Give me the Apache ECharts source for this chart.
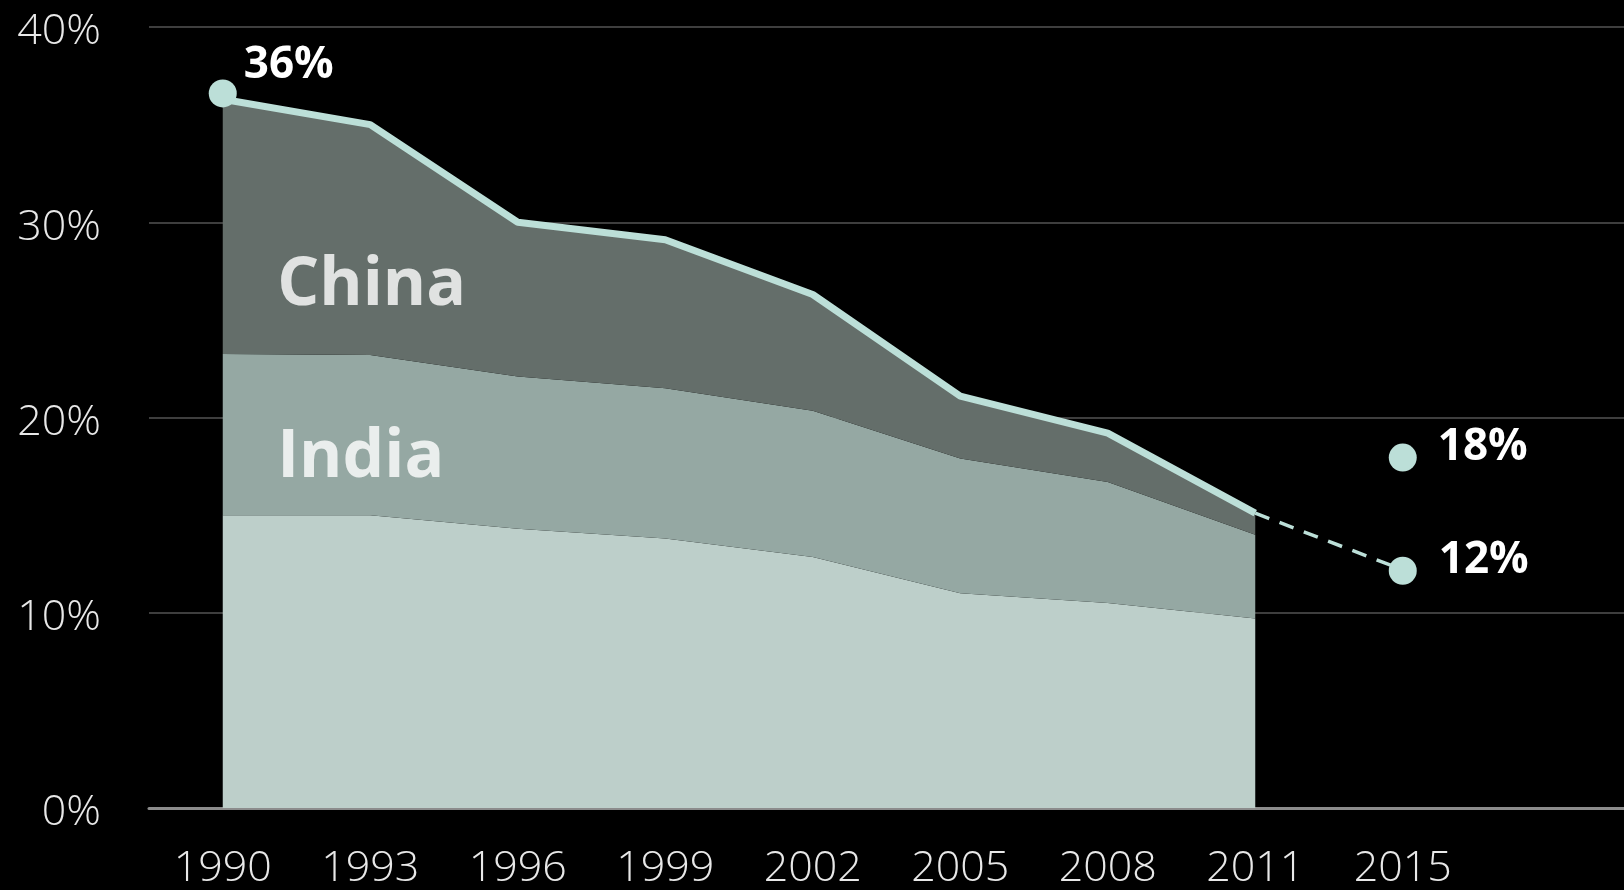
<!DOCTYPE html>
<html>
<head>
<meta charset="utf-8">
<style>
  html, body { margin: 0; padding: 0; background: #000; }
  #chart { width: 1624px; height: 890px; }
</style>
<script src="https://cdn.jsdelivr.net/npm/echarts@6/dist/echarts.min.js"></script>
</head>
<body>
<div id="chart"></div>
<script>
// ---- data ----
const categories = ['1990', '1993', '1996', '1999', '2002', '2005', '2008', '2011', '2015', ''];
const yTicks = [0, 10, 20, 30, 40];
// bottom layer (rest of world), India layer, China layer (stacked, %)
const restValues  = [15.0, 15.0, 14.3, 13.8, 12.85, 11.0, 10.5, 9.7];
const indiaValues = [8.25, 8.2, 7.8, 7.7, 7.5, 6.9, 6.2, 4.3];
const chinaValues = [13.05, 11.8, 7.9, 7.6, 5.95, 3.2, 2.5, 1.1];
// projection from 2011 to 2015
const projectionValues = [null, null, null, null, null, null, null, 15.1, 12.2];
// highlighted points
const markerPoints = [
  { year: '1990', value: 36.6, label: '36%' },
  { year: '2015', value: 17.95, label: '18%' },
  { year: '2015', value: 12.15, label: '12%' }
];
const areaLabels = [
  { year: '1990', value: 26.7, label: 'China' },
  { year: '1990', value: 17.9, label: 'India' }
];

const FONT = '"Open Sans", Lato, sans-serif';
const MINT = '#bcdfd8';

const chart = echarts.init(document.getElementById('chart'), null, { renderer: 'canvas' });

const labelPlacement = {
  '36%': { distance: 7, offset: [0, -28] },
  '18%': { distance: 21, offset: [0, -10] },
  '12%': { distance: 22, offset: [0, -10] }
};

chart.setOption({
  backgroundColor: '#000',
  animation: false,
  grid: { left: 149, right: 0, top: 27, bottom: 82 },
  xAxis: {
    type: 'category',
    data: categories,
    boundaryGap: true,
    axisTick: { show: false },
    axisLine: { lineStyle: { color: '#8c8c8c', width: 3 } },
    axisLabel: {
      color: '#e8e8e8', fontSize: 43, fontFamily: FONT, fontWeight: 300,
      margin: 39, interval: 0
    },
    splitLine: { show: false }
  },
  yAxis: {
    type: 'value',
    min: yTicks[0], max: yTicks[yTicks.length - 1], interval: 10,
    axisLine: { show: false },
    axisTick: { show: false },
    axisLabel: {
      formatter: '{value}%', color: '#e8e8e8', fontSize: 43, fontFamily: FONT,
      fontWeight: 300, margin: 48, verticalAlign: 'top', lineHeight: 10
    },
    splitLine: { lineStyle: { color: '#3e3e3e', width: 2 } }
  },
  series: [
    {
      name: 'Rest', type: 'line', stack: 'total', data: restValues,
      symbol: 'none', lineStyle: { width: 0 },
      areaStyle: { color: '#bdcfca', opacity: 1 }, z: 2
    },
    {
      name: 'India', type: 'line', stack: 'total', data: indiaValues,
      symbol: 'none', lineStyle: { width: 0 },
      areaStyle: { color: '#95a8a3', opacity: 1 }, z: 2
    },
    {
      name: 'China', type: 'line', stack: 'total', data: chinaValues,
      symbol: 'none', lineStyle: { width: 7, color: MINT, join: 'round' },
      areaStyle: { color: '#646e6a', opacity: 1 }, z: 3
    },
    {
      name: 'Projection', type: 'line', data: projectionValues,
      symbol: 'none', connectNulls: false,
      lineStyle: { width: 3.5, color: MINT, type: [15, 11] }, z: 3
    },
    {
      name: 'Markers', type: 'scatter',
      data: markerPoints.map(p => ({
        value: [p.year, p.value],
        label: {
          show: true, formatter: p.label, position: 'right',
          distance: labelPlacement[p.label].distance,
          offset: labelPlacement[p.label].offset
        }
      })),
      symbolSize: 28,
      itemStyle: { color: MINT, opacity: 1 },
      label: { color: '#fff', fontSize: 44, fontWeight: 'bold', fontFamily: FONT },
      z: 5
    },
    {
      name: 'AreaLabels', type: 'scatter',
      data: areaLabels.map(p => ({ value: [p.year, p.value], name: p.label })),
      symbolSize: 1,
      itemStyle: { color: 'rgba(0,0,0,0)' },
      label: {
        show: true, formatter: '{b}', position: 'right', distance: 54,
        color: '#fff', fontSize: 66, fontWeight: 'bold', fontFamily: FONT
      },
      z: 5
    }
  ]
});
</script>
</body>
</html>
